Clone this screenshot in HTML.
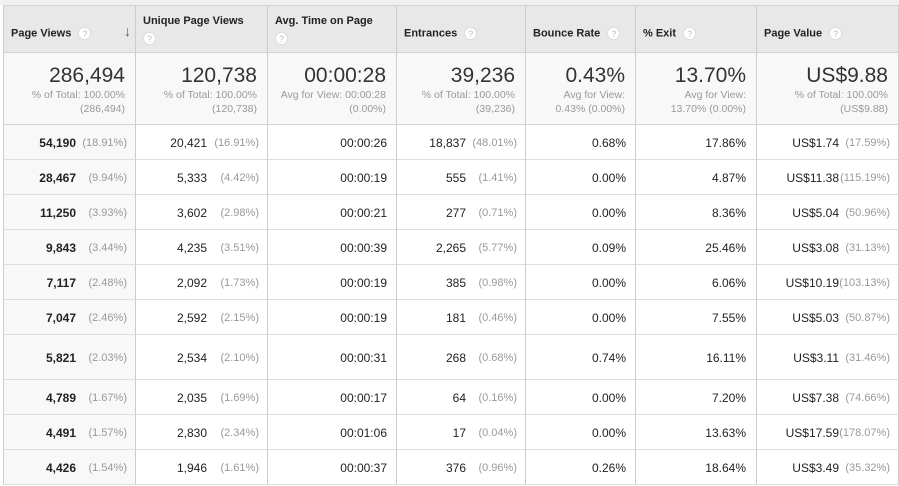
<!DOCTYPE html>
<html><head><meta charset="utf-8"><style>
body{margin:0;width:899px;height:486px;background:#fff;font-family:"Liberation Sans",Arial,sans-serif;position:relative;overflow:hidden;color:#222}
.a{position:absolute}
.hdr{position:absolute;top:5px;height:48px;background:#e8e8e8;border-right:1px solid #ccc;border-top:1px solid #d4d4d4;border-bottom:1px solid #d4d4d4;box-sizing:border-box}
.ht{position:absolute;left:7px;font-weight:bold;font-size:11px;color:#222}
.q{display:inline-block;width:13px;height:13px;border-radius:50%;background:#fff;color:#bbb;font-size:9px;text-align:center;line-height:13px;font-weight:normal;vertical-align:middle;border:1px solid #ddd;box-sizing:border-box}
.tot{position:absolute;top:53px;height:72px;background:#f8f8f8;border-right:1px solid #ccc;border-bottom:1px solid #d4d4d4;box-sizing:border-box}
.big{position:absolute;right:10px;top:11px;font-size:21px;color:#333}
.sub{position:absolute;right:10px;top:35px;font-size:10.5px;color:#999;text-align:right;line-height:14px;white-space:nowrap}
.cell{position:absolute;border-right:1px solid #ccc;border-bottom:1px solid #ddd;box-sizing:border-box;font-size:12px}
.v{position:absolute;text-align:right;white-space:nowrap}
.p{position:absolute;text-align:right;color:#999;font-size:11px;white-space:nowrap}
</style></head><body>
<div class="a" style="left:0;top:0;width:899px;height:5px;background:#f0f0f0"></div>
<div id="tbl"></div>
<script>
const cols=[[3,136],[136,268],[268,397],[397,526],[526,636],[636,757],[757,899]];
const headers=["Page Views","Unique Page Views","Avg. Time on Page","Entrances","Bounce Rate","% Exit","Page Value"];
const twoLine=[false,true,true,false,false,false,false];
const totals=["286,494","120,738","00:00:28","39,236","0.43%","13.70%","US$9.88"];
const subs=[["% of Total: 100.00%","(286,494)"],["% of Total: 100.00%","(120,738)"],["Avg for View: 00:00:28","(0.00%)"],["% of Total: 100.00%","(39,236)"],["Avg for View:","0.43% (0.00%)"],["Avg for View:","13.70% (0.00%)"],["% of Total: 100.00%","(US$9.88)"]];
const pageViews=["54,190","28,467","11,250","9,843","7,117","7,047","5,821","4,789","4,491","4,426"];
const pageViewsPct=["(18.91%)","(9.94%)","(3.93%)","(3.44%)","(2.48%)","(2.46%)","(2.03%)","(1.67%)","(1.57%)","(1.54%)"];
const unique=["20,421","5,333","3,602","4,235","2,092","2,592","2,534","2,035","2,830","1,946"];
const uniquePct=["(16.91%)","(4.42%)","(2.98%)","(3.51%)","(1.73%)","(2.15%)","(2.10%)","(1.69%)","(2.34%)","(1.61%)"];
const avgTime=["00:00:26","00:00:19","00:00:21","00:00:39","00:00:19","00:00:19","00:00:31","00:00:17","00:01:06","00:00:37"];
const entrances=["18,837","555","277","2,265","385","181","268","64","17","376"];
const entrancesPct=["(48.01%)","(1.41%)","(0.71%)","(5.77%)","(0.98%)","(0.46%)","(0.68%)","(0.16%)","(0.04%)","(0.96%)"];
const bounce=["0.68%","0.00%","0.00%","0.09%","0.00%","0.00%","0.74%","0.00%","0.00%","0.26%"];
const exitRate=["17.86%","4.87%","8.36%","25.46%","6.06%","7.55%","16.11%","7.20%","13.63%","18.64%"];
const pageValue=["US$1.74","US$11.38","US$5.04","US$3.08","US$10.19","US$5.03","US$3.11","US$7.38","US$17.59","US$3.49"];
const pageValuePct=["(17.59%)","(115.19%)","(50.96%)","(31.13%)","(103.13%)","(50.87%)","(31.46%)","(74.66%)","(178.07%)","(35.32%)"];
const rowEdges=[125,160,195,230,265,300,335,380,415,450,485];
const data=[[pageViews,pageViewsPct],[unique,uniquePct],[avgTime,null],[entrances,entrancesPct],[bounce,null],[exitRate,null],[pageValue,pageValuePct]];
const valRight=[59,60,9,59,9,10,59];
const t=document.getElementById('tbl');
function mk(cls,style,html){const d=document.createElement('div');d.className=cls;d.style.cssText=style;if(html!==undefined)d.innerHTML=html;t.appendChild(d);return d;}
cols.forEach((c,i)=>{
 const w=c[1]-c[0];
 const h=mk('hdr',`left:${c[0]}px;width:${w}px;`+(i==0?'border-left:1px solid #ccc;':''));
 
 
 const ht=document.createElement('div');ht.className='ht';
 if(twoLine[i]){ht.style.top='9px';ht.innerHTML=headers[i]+'<br><span class="q" style="margin-top:5px">?</span>';}
 else{ht.style.top='21px';ht.innerHTML=headers[i]+' <span class="q" style="margin-left:4px">?</span>';}
 h.appendChild(ht);
 if(i==0){const ar=document.createElement('div');ar.className='ht';ar.style.cssText='left:auto;right:4px;top:17px;font-size:14px;color:#555';ar.textContent='↓';h.appendChild(ar);}
 const tt=mk('tot',`left:${c[0]}px;width:${w}px;`+(i==0?'border-left:1px solid #ccc;':''),`<div class="big">${totals[i]}</div><div class="sub">${subs[i][0]}<br>${subs[i][1]}</div>`);
 
 
 for(let r=0;r<10;r++){
  const y0=rowEdges[r],y1=rowEdges[r+1],hh=y1-y0;
  const cell=mk('cell',`left:${c[0]}px;width:${w}px;top:${y0}px;height:${hh}px;`+(i==0?'border-left:1px solid #ccc;background:#f8f8f8;':''));
  
  
  const v=document.createElement('div');v.className='v';v.style.cssText=`right:${valRight[i]}px;top:${hh/2-8}px;line-height:16px;`+(i==0?'font-weight:bold;':'');v.textContent=data[i][0][r];cell.appendChild(v);
  if(data[i][1]){const p=document.createElement('div');p.className='p';p.style.cssText=`right:8px;top:${hh/2-8}px;line-height:16px`;p.textContent=data[i][1][r];cell.appendChild(p);}
 }
});
</script>
</body></html>
